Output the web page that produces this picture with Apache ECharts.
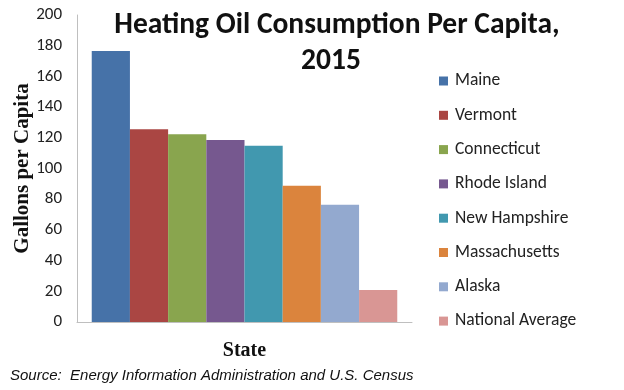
<!DOCTYPE html>
<html>
<head>
<meta charset="utf-8">
<script src="https://cdn.jsdelivr.net/npm/echarts@6/dist/echarts.min.js"></script>
<style>html,body{margin:0;padding:0;background:#fff;}#c{width:624px;height:390px;}</style>
</head>
<body>
<div id="c"></div>
<script>
const states = ['Maine','Vermont','Connecticut','Rhode Island','New Hampshire','Massachusetts','Alaska','National Average'];
const values = [176.5, 125.5, 122.3, 118.6, 114.9, 88.8, 76.4, 20.8];
const colors = ['#4672A8','#AA4643','#89A54E','#76588F','#4198AF','#DB843D','#93A9CF','#D99694'];
const yTicks = [0, 20, 40, 60, 80, 100, 120, 140, 160, 180, 200];

const font = 'Carlito, Lato, "Open Sans", sans-serif';
const serif = '"Liberation Serif", "DejaVu Serif", serif';
const chart = echarts.init(document.getElementById('c'), null, {renderer: 'canvas'});
chart.setOption({
  animation: false,
  backgroundColor: '#fff',
  color: colors,
  grid: {left: 77, right: 212, top: 15, bottom: 68, containLabel: false, outerBoundsMode: 'none'},
  xAxis: {
    type: 'category', data: [''],
    axisLine: {lineStyle: {color: '#bfbfbf', width: 1}},
    axisTick: {show: false}, axisLabel: {show: false},
    name: 'State', nameLocation: 'middle', nameGap: 19, nameMoveOverlap: false,
    nameTextStyle: {fontFamily: serif, fontWeight: 'bold', fontSize: 20, color: '#111'}
  },
  yAxis: {
    type: 'value', min: yTicks[0], max: yTicks[yTicks.length-1], interval: 20,
    splitLine: {show: false},
    axisLine: {show: true, lineStyle: {color: '#bfbfbf', width: 1}},
    axisTick: {show: false},
    axisLabel: {margin: 15, fontFamily: font, fontSize: 17, color: '#222'},
    name: 'Gallons per Capita', nameLocation: 'middle', nameGap: 44, nameMoveOverlap: false,
    nameTextStyle: {fontFamily: serif, fontWeight: 'bold', fontSize: 21, color: '#111'}
  },
  legend: {
    orient: 'vertical', left: 434, top: 67,
    itemWidth: 9, itemHeight: 9, itemGap: 16.3, icon: 'rect',
    textStyle: {fontFamily: font, fontSize: 17.5, color: '#222', lineHeight: 18, padding: [0,0,0,2]},
    data: states
  },
  graphic: [
    {type: 'text', x: 337, y: 26, style: {text: 'Heating Oil Consumption Per Capita,', font: 'bold 29.5px ' + font, fill: '#111', textAlign: 'center', textVerticalAlign: 'middle'}},
    {type: 'text', x: 331, y: 62, style: {text: '2015', font: 'bold 29.5px ' + font, fill: '#111', textAlign: 'center', textVerticalAlign: 'middle'}},
    {type: 'text', x: 10, y: 376, style: {text: 'Source:  Energy Information Administration and U.S. Census', font: 'italic 15px "Liberation Sans", Arial, sans-serif', fill: '#111', textAlign: 'left', textVerticalAlign: 'middle'}}
  ],
  series: states.map((s, i) => ({
    name: s, type: 'bar', data: [values[i]],
    barGap: '0%', barCategoryGap: '8.8%',
    itemStyle: {color: colors[i]}
  }))
});
</script>
</body>
</html>
